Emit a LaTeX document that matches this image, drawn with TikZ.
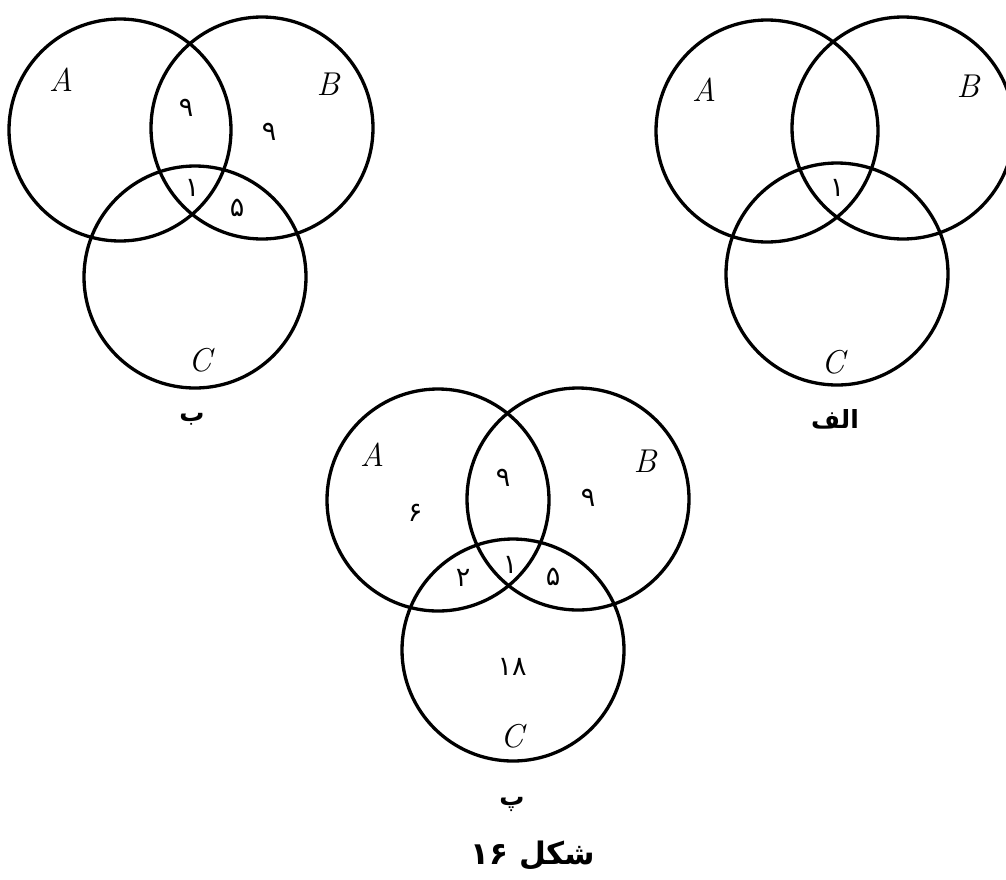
\documentclass[tikz,border=0pt]{standalone}
\usepackage{fontspec}
\newfontfamily\arabicfont[Script=Arabic]{DejaVu Sans}
\TeXXeTstate=1
\begin{document}
\begin{tikzpicture}[x=1pt,y=-1pt,
  venn/.style={draw=black,line width=3.3pt,circle,minimum size=222pt,inner sep=0pt},
  setlbl/.style={font=\itshape\fontsize{33}{38}\selectfont},
  num/.style={font=\arabicfont\fontsize{27}{32}\selectfont},
  captxt/.style={font=\arabicfont\bfseries\fontsize{25}{28}\selectfont}]
\useasboundingbox (0,0) rectangle (1006,879);
% Diagram b (top left)
\node[venn] (bA) at (120,130) {};
\node[venn] (bB) at (262,128) {};
\node[venn] (bC) at (195,277) {};
\node[setlbl] (bAl) at (61,80) {A};
\node[setlbl] (bBl) at (328,84) {B};
\node[setlbl] (bCl) at (200,360) {C};
\node[num] (bn1) at (186,108) {۹};
\node[num] (bn2) at (269,132) {۹};
\node[num] (bn3) at (192,188) {۱};
\node[num] (bn4) at (237,208) {۵};
\node[captxt] (bcap) at (192,419) {\beginR ب\endR};
% Diagram alef (top right)
\node[venn] (aA) at (767,131) {};
\node[venn] (aB) at (903,128) {};
\node[venn] (aC) at (837,274) {};
\node[setlbl] (aAl) at (704,90) {A};
\node[setlbl] (aBl) at (968,86) {B};
\node[setlbl] (aCl) at (833,362) {C};
\node[num] (an1) at (837,188) {۱};
\node[captxt] (acap) at (835,419) {\beginR الف\endR};
% Diagram pe (bottom)
\node[venn] (pA) at (438,500) {};
\node[venn] (pB) at (578,499) {};
\node[venn] (pC) at (513,650) {};
\node[setlbl] (pAl) at (372,455) {A};
\node[setlbl] (pBl) at (645,461) {B};
\node[setlbl] (pCl) at (512,736) {C};
\node[num] (pn1) at (415,513) {۶};
\node[num] (pn2) at (503,478) {۹};
\node[num] (pn3) at (588,498) {۹};
\node[num] (pn4) at (510,565) {۱};
\node[num] (pn5) at (463,578) {۲};
\node[num] (pn6) at (553,577) {۵};
\node[num] (pn7) at (512,667) {۱۸};
\node[captxt] (pcap) at (512,804) {\beginR پ\endR};
\node[captxt,font=\arabicfont\bfseries\fontsize{31}{34}\selectfont] (fig) at (533,856) {۱۶ \beginR شکل\endR};
\end{tikzpicture}
\end{document}
